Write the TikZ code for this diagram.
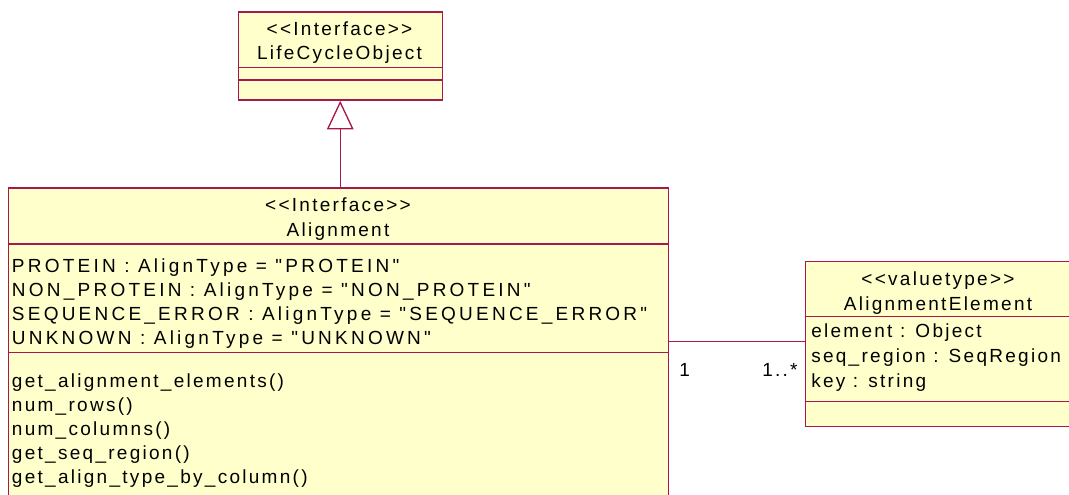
\documentclass[tikz,border=0pt]{standalone}
\usepackage{fontspec}
\setmainfont{Liberation Sans}[LetterSpace=12, Ligatures=TeXOff]
\usetikzlibrary{arrows.meta}
\definecolor{umlfill}{RGB}{255,255,204}
\definecolor{umlline}{RGB}{168,24,78}
\tikzset{
  umlbox/.style={draw=umlline, fill=umlfill, line width=1.1pt},
  umlsep/.style={draw=umlline, line width=1.0pt},
  umltext/.style={inner sep=0pt, font=\fontsize{14.25pt}{18pt}\selectfont, text=black},
  lefttext/.style={umltext, anchor=base west},
  midtext/.style={umltext, anchor=base},
  widetext/.style={lefttext, font=\fontsize{14.25pt}{18pt}\selectfont\addfontfeatures{LetterSpace=17}},
  assoc/.style={draw=umlline, line width=1.0pt},
  realize/.style={draw=umlline, line width=1.0pt,
    -{Triangle[open, length=21.5pt, width=20pt]}}
}
\begin{document}
\begin{tikzpicture}[x=0.75pt, y=-0.75pt]
\useasboundingbox (0,0) rectangle (1069,495);

% LifeCycleObject interface
\node[umlbox, anchor=north west, minimum width=204*0.75pt, minimum height=87.8*0.75pt, inner sep=0pt]
  (lco) at (237.5,11.5) {};
\draw[umlsep] (237.5,67.7) -- (441.5,67.7);
\draw[umlsep] (237.5,80) -- (441.5,80);
\node[midtext] (lcoS) at (339.5,36) {<{}<Interface>{}>};
\node[midtext] (lcoN) at (339.5,60) {LifeCycleObject};

% Alignment interface (runs past the lower edge)
\node[umlbox, anchor=north west, minimum width=660*0.75pt, minimum height=320*0.75pt, inner sep=0pt]
  (align) at (8,187.5) {};
\draw[umlsep] (8,244) -- (668,244);
\draw[umlsep] (8,352.7) -- (668,352.7);
\node[midtext] (alS) at (338,212) {<{}<Interface>{}>};
\node[midtext] (alN) at (338,236) {Alignment};
\node[widetext] (a1) at (11.7,272) {PROTEIN : AlignType = "PROTEIN"};
\node[widetext] (a2) at (11.7,296) {NON\_PROTEIN : AlignType = "NON\_PROTEIN"};
\node[widetext] (a3) at (11.7,320) {SEQUENCE\_ERROR : AlignType = "SEQUENCE\_ERROR"};
\node[widetext] (a4) at (11.7,344) {UNKNOWN : AlignType = "UNKNOWN"};
\node[lefttext] (m1) at (11.7,387) {get\_alignment\_elements()};
\node[lefttext] (m2) at (11.7,411) {num\_rows()};
\node[lefttext] (m3) at (11.7,435) {num\_columns()};
\node[lefttext] (m4) at (11.7,459) {get\_seq\_region()};
\node[lefttext] (m5) at (11.7,483) {get\_align\_type\_by\_column()};

% AlignmentElement valuetype (runs past the right edge)
\node[umlbox, anchor=north west, minimum width=267.5*0.75pt, minimum height=165*0.75pt, inner sep=0pt]
  (elem) at (804.5,260.7) {};
\draw[umlsep] (804.5,316.7) -- (1072,316.7);
\draw[umlsep] (804.5,401.7) -- (1072,401.7);
\node[midtext] (elS) at (938,285) {<{}<valuetype>{}>};
\node[midtext] (elN) at (938,310) {AlignmentElement};
\node[lefttext] (e1) at (811,337) {element : Object};
\node[lefttext] (e2) at (811,362) {seq\_region : SeqRegion};
\node[lefttext] (e3) at (811,387) {key : string};

% Realization of LifeCycleObject by Alignment
\draw[realize] (lco.south |- align.north) -- (lco.south);

% Association Alignment -- AlignmentElement
\coordinate (assocy) at (0,341.5);
\draw[assoc] (align.east |- assocy) -- (elem.west |- assocy);
\node[lefttext] (mult1) at (679,376) {1};
\node[lefttext] (mult2) at (762,376) {1..*};
\end{tikzpicture}
\end{document}
